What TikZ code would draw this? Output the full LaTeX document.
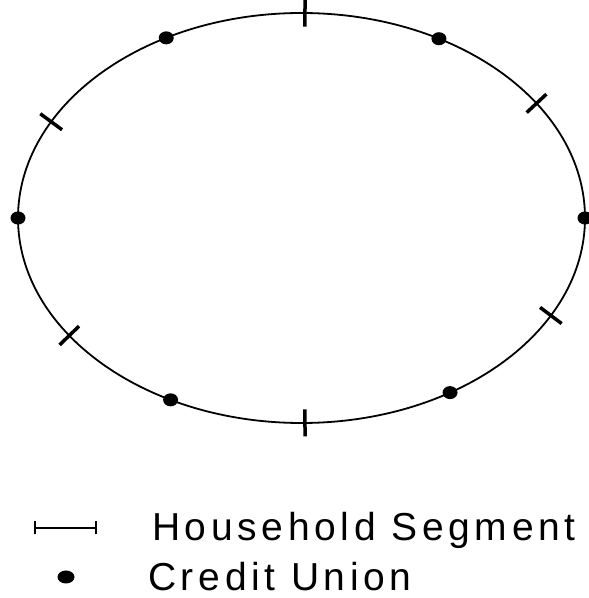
\documentclass[tikz,border=0pt]{standalone}
\usepackage{fontspec}
\setmainfont{Liberation Sans}
\newfontfamily\legendfont[LetterSpace=12]{Liberation Sans}
\begin{document}
\begin{tikzpicture}[x=1pt,y=1pt,
  ring/.style={line width=1.8pt},
  tickmark/.style={line width=3.5pt},
  cudot/.style={fill=black},
  legendline/.style={line width=1.2pt},
  legendtext/.style={anchor=base west,inner sep=0pt,font=\fontsize{39}{39}\selectfont\legendfont}]
\useasboundingbox (0,0) rectangle (589,598);
\def\cx{301.5}\def\cy{380}\def\rx{283.5}\def\ry{205}
\draw[ring] (\cx,\cy) ellipse [x radius=\rx, y radius=\ry];
% household segment ticks
\foreach \t in {89.3,270.7,152,34,215,-28.4} {
  \pgfmathsetmacro\px{\cx+\rx*cos(\t)}
  \pgfmathsetmacro\py{\cy+\ry*sin(\t)}
  \pgfmathsetmacro\nx{cos(\t)*1000/\rx}
  \pgfmathsetmacro\ny{sin(\t)*1000/\ry}
  \pgfmathsetmacro\nn{sqrt(\nx*\nx+\ny*\ny)}
  \pgfmathsetmacro\ux{13.5*\nx/\nn}
  \pgfmathsetmacro\uy{13.5*\ny/\nn}
  \draw[tickmark] (\px-\ux,\py-\uy) -- (\px+\ux,\py+\uy);
}
% credit union dots
\foreach \t in {118.5,61,180,0,242.5,-58.4} {
  \fill[cudot] ({\cx+\rx*cos(\t)},{\cy+\ry*sin(\t)}) ellipse [x radius=7.5, y radius=6.5];
}
% legend
\coordinate (la) at (35,70);
\coordinate (lb) at (96,70);
\draw[legendline] (la) -- (lb);
\draw[legendline] ([yshift=-6.5pt]la) -- ([yshift=6.5pt]la);
\draw[legendline] ([yshift=-6.5pt]lb) -- ([yshift=6.5pt]lb);
\node[legendtext] (hs) at (152,57) {Household Segment};
\fill[cudot] (66,21) ellipse [x radius=8.5, y radius=6.5];
\node[legendtext] (cu) at (148,7) {Credit Union};
\end{tikzpicture}
\end{document}
